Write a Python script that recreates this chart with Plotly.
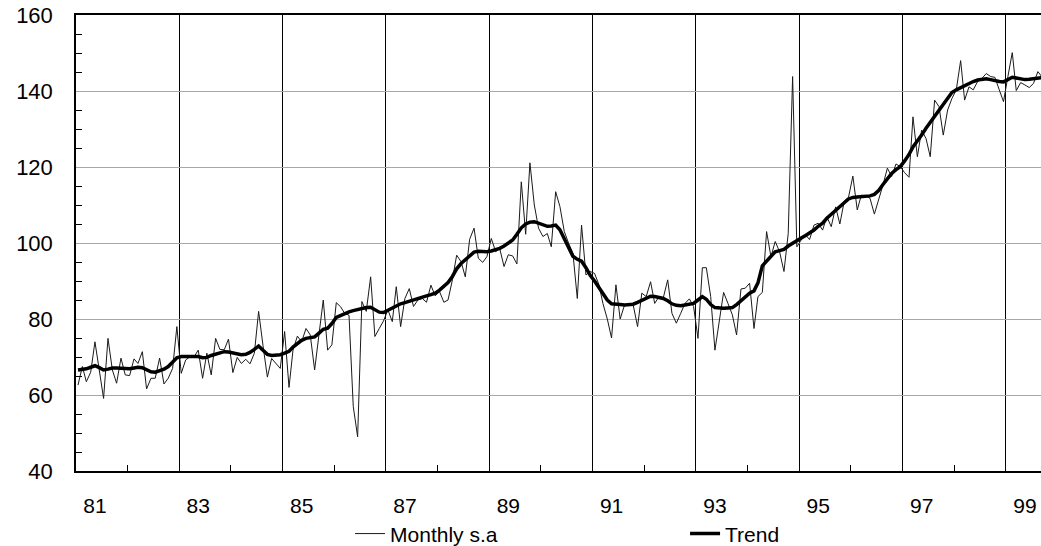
import pandas as pd
import plotly.graph_objects as go

# Monthly seasonally adjusted series, Jan 1981 onwards (one row per year)
monthly_sa = [
    62.6, 67.5, 63.5, 66.0, 74.0, 66.3, 59.1, 74.9, 66.6, 63.1, 69.7, 65.3,      # 1981
    65.1, 69.5, 68.3, 71.4, 61.6, 64.4, 64.4, 69.7, 62.9, 64.4, 67.0, 78.0,      # 1982
    65.7, 69.2, 70.0, 70.0, 71.8, 64.4, 71.0, 65.3, 74.9, 72.0, 71.9, 74.7,      # 1983
    65.9, 69.9, 68.3, 69.4, 68.2, 71.0, 82.0, 73.0, 64.7, 69.6, 68.3, 67.0,      # 1984
    76.7, 62.0, 71.8, 75.5, 74.0, 77.5, 75.8, 66.6, 76.0, 85.0, 71.8, 73.2,      # 1985
    84.3, 83.2, 81.5, 81.0, 57.0, 49.0, 84.6, 82.0, 91.1, 75.4, 77.5, 79.5,      # 1986
    82.4, 79.3, 88.5, 78.0, 85.4, 88.0, 83.3, 85.0, 85.4, 84.4, 88.9, 86.1,      # 1987
    87.2, 84.4, 85.0, 90.3, 96.8, 95.1, 91.1, 101.0, 103.9, 96.0, 94.9, 96.4,    # 1988
    101.2, 97.7, 98.6, 93.8, 96.9, 96.6, 94.5, 116.1, 102.3, 121.1, 110.0, 103.9,  # 1989
    101.7, 102.5, 99.0, 113.5, 109.6, 103.0, 100.0, 97.3, 85.4, 104.7, 91.6, 92.5,  # 1990
    92.0, 89.0, 84.1, 80.0, 75.0, 89.0, 80.0, 83.7, 84.0, 83.7, 78.0, 86.8,      # 1991
    85.9, 89.8, 84.1, 85.9, 85.6, 90.3, 81.5, 78.9, 81.5, 84.1, 85.3, 83.3,      # 1992
    74.9, 93.5, 93.5, 85.9, 71.8, 80.0, 87.0, 84.1, 81.1, 75.8, 87.9, 88.1,      # 1993
    89.4, 77.5, 85.9, 87.0, 103.0, 96.4, 100.4, 97.7, 92.5, 102.5, 143.8, 99.0,  # 1994
    100.8, 102.1, 100.9, 104.7, 105.2, 103.4, 106.9, 104.3, 109.5, 105.0, 111.0, 112.0,  # 1995
    117.6, 108.7, 112.6, 112.4, 111.8, 107.6, 111.3, 115.3, 119.7, 117.5, 120.8, 120.1,  # 1996
    118.5, 117.3, 133.2, 122.7, 129.7, 127.5, 122.7, 137.6, 135.9, 128.4, 135.0, 138.0,  # 1997
    140.3, 148.0, 137.6, 141.1, 140.3, 142.5, 143.3, 144.6, 143.8, 143.6, 140.3, 137.2,  # 1998
    143.8, 150.1, 140.1, 142.2, 141.6, 140.9, 142.0, 145.1, 143.6,                      # 1999
]

trend = [
    66.6, 66.7, 66.9, 67.3, 67.7, 67.2, 66.6, 66.8, 67.1, 67.1, 67.0, 66.9,      # 1981
    66.9, 67.1, 67.3, 67.2, 66.6, 66.1, 66.0, 66.3, 66.8, 67.5, 68.6, 69.8,      # 1982
    70.1, 70.1, 70.0, 70.0, 70.1, 69.8, 69.9, 70.4, 70.8, 71.2, 71.4, 71.3,      # 1983
    71.1, 70.8, 70.6, 70.7, 71.2, 72.0, 72.9, 71.8, 70.7, 70.4, 70.4, 70.6,      # 1984
    71.0, 71.5, 72.6, 73.6, 74.4, 74.9, 75.1, 75.3, 76.3, 77.3, 77.6, 78.8,      # 1985
    80.4, 81.0, 81.5, 81.9, 82.2, 82.5, 82.8, 83.0, 83.1, 82.4, 81.8, 81.7,      # 1986
    82.3, 83.1, 83.6, 84.0, 84.3, 84.7, 85.0, 85.4, 85.8, 86.1, 86.4, 86.8,      # 1987
    87.6, 88.6, 89.6, 91.2, 93.2, 94.6, 95.5, 96.6, 97.6, 97.8, 97.7, 97.7,      # 1988
    97.9, 98.2, 98.6, 99.2, 100.0, 100.8, 102.3, 104.0, 105.0, 105.5, 105.6, 105.2,  # 1989
    104.6, 104.4, 104.5, 104.7, 103.5, 101.2, 98.8, 96.5, 95.7, 95.2, 93.5, 91.5,    # 1990
    90.0, 88.2, 86.4, 85.0, 84.0, 83.8, 83.8, 83.7, 83.7, 83.9, 84.4, 85.0,      # 1991
    85.6, 86.0, 85.9, 85.7, 85.4, 84.8, 84.0, 83.6, 83.5, 83.7, 84.0, 84.1,      # 1992
    85.0, 85.9, 85.2, 83.8, 83.0, 82.8, 82.8, 82.9, 83.0, 83.8, 84.8, 85.7,      # 1993
    86.8, 87.4, 89.5, 94.0, 95.3, 96.7, 97.7, 98.0, 98.3, 99.2, 100.0, 100.6,    # 1994
    101.3, 102.0, 102.6, 103.4, 104.4, 105.2, 106.5, 107.6, 108.6, 109.6, 110.6, 111.6,  # 1995
    112.0, 112.1, 112.2, 112.3, 112.4, 112.8, 113.8, 115.4, 117.0, 118.3, 119.3, 120.1,  # 1996
    121.6, 123.3, 125.3, 126.8, 128.4, 130.2, 131.7, 133.4, 135.0, 136.6, 138.2, 139.6,  # 1997
    140.3, 140.9, 141.4, 141.9, 142.5, 142.9, 143.1, 143.2, 143.0, 142.7, 142.5, 142.4,  # 1998
    142.9, 143.6, 143.4, 143.1, 143.0, 143.1, 143.2, 143.4, 143.5,                      # 1999
]

first_month = "1981-01-01"
tick_years = ["1981", "1983", "1985", "1987", "1989", "1991", "1993", "1995", "1997", "1999"]
tick_labels = ["81", "83", "85", "87", "89", "91", "93", "95", "97", "99"]
minor_years = ["1982", "1984", "1986", "1988", "1990", "1992", "1994", "1996", "1998"]
series_names = ["Monthly s.a", "Trend"]

n = min(len(monthly_sa), len(trend))
dates = (pd.date_range(first_month, periods=n, freq="MS") + pd.Timedelta(days=14)).strftime("%Y-%m-%d").tolist()

FONT = "Liberation Sans, Arial, sans-serif"

fig = go.Figure()
fig.add_trace(go.Scatter(
    x=dates, y=monthly_sa[:n], mode="lines", name=series_names[0],
    line=dict(color="#1a1a1a", width=1),
))
fig.add_trace(go.Scatter(
    x=dates, y=trend[:n], mode="lines", name=series_names[1],
    line=dict(color="#000000", width=3.5),
))

fig.update_layout(
    width=1041, height=546,
    margin=dict(l=76, r=0, t=15, b=75, autoexpand=False),
    paper_bgcolor="white", plot_bgcolor="white",
    font=dict(family=FONT, size=21, color="black"),
    showlegend=True,
    legend=dict(
        orientation="h", x=0.284, xanchor="left", y=-0.138, yanchor="middle",
        entrywidth=290, entrywidthmode="pixels",
        font=dict(family=FONT, size=21, color="black"),
        bgcolor="rgba(0,0,0,0)",
    ),
)

fig.update_xaxes(
    type="date",
    range=["1981-01-01", "1999-09-06"],
    tickmode="array",
    tickvals=[y + "-01-01" for y in tick_years],
    ticktext=tick_labels,
    ticklabelshift=19,
    ticklabeloverflow="allow",
    ticks="", ticklabelstandoff=15,
    showgrid=True, gridcolor="black", gridwidth=1,
    showline=True, linecolor="black", linewidth=1.5, mirror=True,
    zeroline=False, automargin=False,
    tickfont=dict(family=FONT, size=21, color="black"),
    minor=dict(
        tickmode="array",
        tickvals=[y + "-01-01" for y in minor_years],
        ticks="inside", ticklen=6, tickcolor="black", tickwidth=1,
        showgrid=False,
    ),
)

fig.update_yaxes(
    range=[40, 160],
    tickmode="linear", tick0=40, dtick=20,
    ticks="", ticklabelstandoff=17,
    ticklabeloverflow="allow",
    showgrid=True, gridcolor="#a8a8a8", gridwidth=1,
    showline=True, linecolor="black", linewidth=1.5, mirror=False,
    zeroline=False, automargin=False,
    tickfont=dict(family=FONT, size=22, color="black"),
    minor=dict(
        tickmode="linear", tick0=40, dtick=5,
        ticks="inside", ticklen=6, tickcolor="black", tickwidth=1,
        showgrid=False,
    ),
)

fig.write_html(
    "out.html",
    config={"displayModeBar": False},
    post_script="document.body.style.margin='0';document.body.style.overflow='hidden';",
)
